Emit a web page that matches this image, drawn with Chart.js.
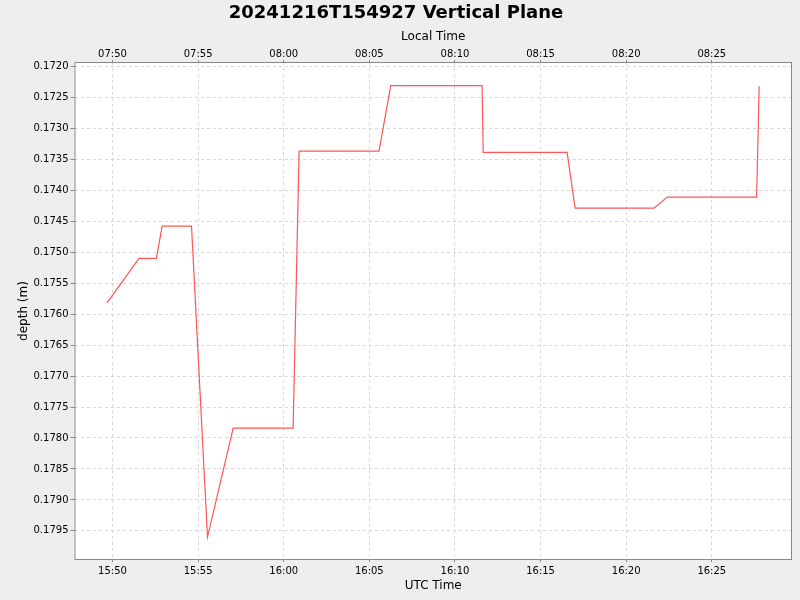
<!DOCTYPE html>
<html>
<head>
<meta charset="utf-8">
<script src="https://cdn.jsdelivr.net/npm/chart.js@4/dist/chart.umd.min.js"></script>
<style>
  html, body { margin: 0; padding: 0; background: #eeeeee; }
  #wrap { width: 800px; height: 600px; }
</style>
</head>
<body>
<div id="wrap"><canvas id="depthChart"></canvas></div>
<script>
// samples (UTC)
const utcTimes = ['15:49:41', '15:51:33', '15:52:34', '15:52:54', '15:54:37', '15:55:33',
    '15:57:03', '16:00:33', '16:00:54', '16:05:34', '16:06:15', '16:11:35', '16:11:39',
    '16:16:33', '16:17:01', '16:21:37', '16:22:24', '16:27:37', '16:27:46'];
const depths = [0.17582, 0.1751, 0.1751, 0.17458, 0.17458, 0.1796,
    0.17784, 0.17784, 0.17337, 0.17337, 0.17231, 0.17231, 0.17339,
    0.17339, 0.17429, 0.17429, 0.17411, 0.17411, 0.17232];

const utcTickLabels = ['15:50', '15:55', '16:00', '16:05', '16:10', '16:15', '16:20', '16:25'];
const localOffsetHours = -8;
const depthTicks = [0.1720, 0.1725, 0.1730, 0.1735, 0.1740, 0.1745, 0.1750, 0.1755,
    0.1760, 0.1765, 0.1770, 0.1775, 0.1780, 0.1785, 0.1790, 0.1795];

const xRange = ['15:47:47', '16:29:41'];
const yRange = [0.17193, 0.17997];

function toSec(s) {
    const p = s.split(':').map(Number);
    return p[0] * 3600 + p[1] * 60 + (p[2] || 0);
}
function fmt(sec) {
    sec = ((sec % 86400) + 86400) % 86400;
    const h = Math.floor(sec / 3600), m = Math.floor((sec % 3600) / 60);
    return String(h).padStart(2, '0') + ':' + String(m).padStart(2, '0');
}

const points = utcTimes.map((t, i) => ({ x: toSec(t), y: depths[i] }));
const xTickValues = utcTickLabels.map(toSec);

const font = 'DejaVu Sans';
const gridColor = '#d8d8d8';
const axisColor = '#888888';

// white plot background + frame round the data area
const plotFrame = {
    id: 'plotFrame',
    beforeDraw(chart) {
        const { ctx, chartArea: a } = chart;
        ctx.save();
        ctx.fillStyle = '#eeeeee';
        ctx.fillRect(0, 0, chart.width, chart.height);
        ctx.fillStyle = '#ffffff';
        ctx.fillRect(a.left, a.top, a.right - a.left, a.bottom - a.top);
        ctx.restore();
    },
    afterDraw(chart) {
        const { ctx, chartArea: a } = chart;
        ctx.save();
        ctx.strokeStyle = axisColor;
        ctx.lineWidth = 1;
        ctx.strokeRect(a.left + 0.5, a.top + 0.5, a.right - a.left - 1, a.bottom - a.top - 1);
        ctx.restore();
    }
};

new Chart(document.getElementById('depthChart'), {
    type: 'line',
    data: {
        datasets: [{
            label: 'depth',
            data: points,
            borderColor: '#ff5555',
            borderWidth: 1.2,
            pointRadius: 0,
            tension: 0,
            fill: false
        }]
    },
    options: {
        responsive: true,
        maintainAspectRatio: false,
        animation: false,
        layout: { padding: { top: 2.5, right: 8, bottom: 0, left: 0 } },
        plugins: {
            legend: { display: false },
            tooltip: { enabled: false },
            title: {
                display: true,
                text: '20241216T154927 Vertical Plane',
                color: '#000000',
                font: { family: font, size: 18, weight: 'bold' },
                padding: { top: 0, bottom: 0 }
            }
        },
        scales: {
            x: {
                type: 'linear',
                position: 'bottom',
                min: toSec(xRange[0]),
                max: toSec(xRange[1]),
                afterBuildTicks: s => { s.ticks = xTickValues.map(v => ({ value: v })); },
                afterFit: s => { s.height = 40; },
                ticks: {
                    callback: v => fmt(v),
                    color: '#000000',
                    font: { family: font, size: 10 },
                    padding: 3.3,
                    maxRotation: 0,
                    autoSkip: false
                },
                grid: { color: gridColor, tickColor: axisColor, tickLength: 2, tickBorderDash: [] },
                border: { display: false, dash: [3, 3] },
                title: {
                    display: true,
                    text: 'UTC Time',
                    color: '#000000',
                    font: { family: font, size: 12 },
                    padding: { top: 0, bottom: 6.8 }
                }
            },
            x2: {
                type: 'linear',
                position: 'top',
                min: toSec(xRange[0]),
                max: toSec(xRange[1]),
                afterBuildTicks: s => { s.ticks = xTickValues.map(v => ({ value: v })); },
                afterFit: s => { s.height = 37.9; },
                ticks: {
                    callback: v => fmt(v + localOffsetHours * 3600),
                    color: '#000000',
                    font: { family: font, size: 10 },
                    padding: 0,
                    maxRotation: 0,
                    autoSkip: false
                },
                grid: { drawOnChartArea: false, tickColor: axisColor, tickLength: 2 },
                border: { display: false },
                title: {
                    display: true,
                    text: 'Local Time',
                    color: '#000000',
                    font: { family: font, size: 12 },
                    padding: { top: 5.4, bottom: 0 }
                }
            },
            y: {
                type: 'linear',
                position: 'left',
                reverse: true,
                min: yRange[0],
                max: yRange[1],
                afterBuildTicks: s => { s.ticks = depthTicks.map(v => ({ value: v })); },
                afterFit: s => { s.width = 74.5; },
                ticks: {
                    callback: v => v.toFixed(4),
                    color: '#000000',
                    font: { family: font, size: 10 },
                    padding: 2
                },
                grid: { color: gridColor, tickColor: axisColor, tickLength: 4, tickBorderDash: [] },
                border: { display: false, dash: [3, 3] },
                title: {
                    display: true,
                    text: 'depth (m)',
                    color: '#000000',
                    font: { family: font, size: 12 },
                    padding: { top: 16.5, bottom: 0 }
                }
            }
        }
    },
    plugins: [plotFrame]
});
</script>
</body>
</html>
